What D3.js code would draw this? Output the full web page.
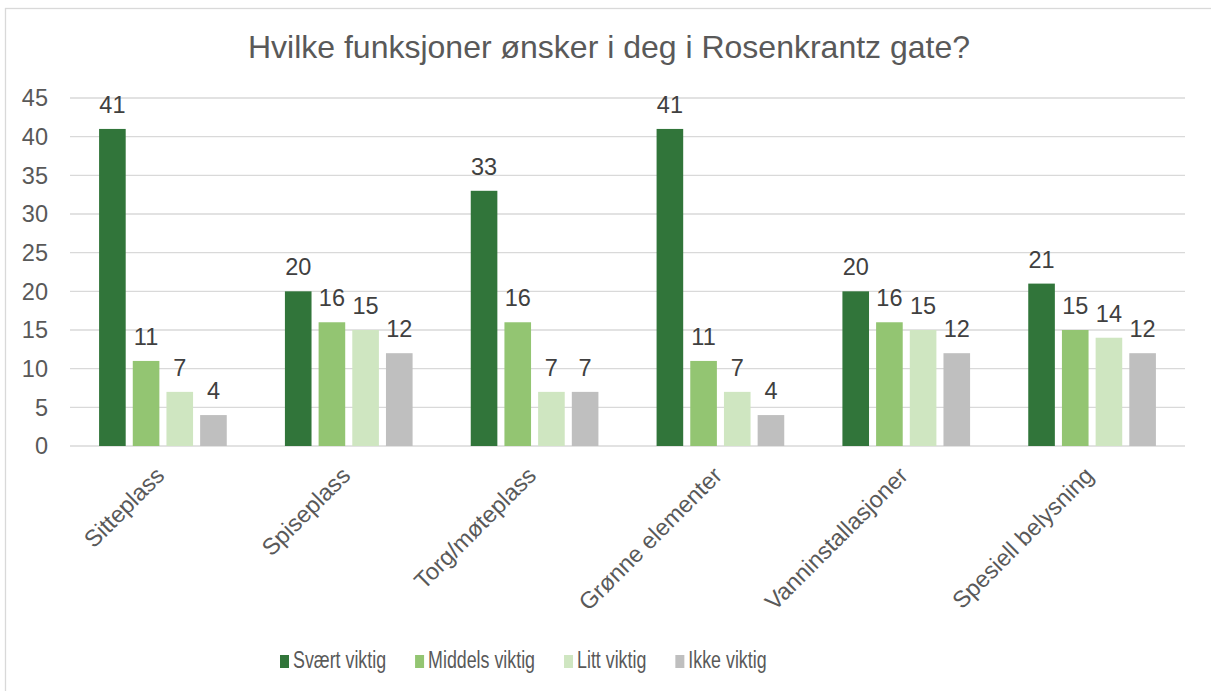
<!DOCTYPE html>
<html>
<head>
<meta charset="utf-8">
<script src="https://cdn.jsdelivr.net/npm/d3@7"></script>
<style>
  body { margin: 0; background: #fff; }
  svg { display: block; font-family: "Liberation Sans", Arial, sans-serif; }
</style>
</head>
<body>
<div id="chart"></div>
<script>
const categories = ['Sitteplass', 'Spiseplass', 'Torg/møteplass', 'Grønne elementer', 'Vanninstallasjoner', 'Spesiell belysning'];
const seriesNames = ['Svært viktig', 'Middels viktig', 'Litt viktig', 'Ikke viktig'];
const svaertViktig = [41, 20, 33, 41, 20, 21];
const middelsViktig = [11, 16, 16, 11, 16, 15];
const littViktig = [7, 15, 7, 7, 15, 14];
const ikkeViktig = [4, 12, 7, 4, 12, 12];
const yTicks = [0, 5, 10, 15, 20, 25, 30, 35, 40, 45];
const colors = ['#31753a', '#93c572', '#cfe6c1', '#bfbfbf'];

const series = [svaertViktig, middelsViktig, littViktig, ikkeViktig];
const width = 1211, height = 691;
const plot = { left: 70, right: 1185, top: 98, bottom: 446 };

const svg = d3.select('#chart').append('svg')
  .attr('width', width)
  .attr('height', height);

// chart frame (runs off the right and bottom of the page)
svg.append('rect')
  .attr('x', 5.5).attr('y', 8.5)
  .attr('width', width + 20).attr('height', height + 20)
  .attr('fill', '#fff')
  .attr('stroke', '#d9d9d9')
  .attr('stroke-width', 1.3);

svg.append('text')
  .attr('x', 609).attr('y', 58)
  .attr('text-anchor', 'middle')
  .attr('font-size', 32)
  .attr('fill', '#595959')
  .text('Hvilke funksjoner ønsker i deg i Rosenkrantz gate?');

const x0 = d3.scaleBand()
  .domain(categories)
  .range([plot.left, plot.right])
  .paddingInner(0.313)
  .paddingOuter(0.1565);

const x1 = d3.scaleBand()
  .domain(d3.range(series.length))
  .range([0, x0.bandwidth()])
  .paddingInner(0.21);

const y = d3.scaleLinear()
  .domain([0, 45])
  .range([plot.bottom, plot.top]);

// gridlines
svg.append('g')
  .selectAll('line')
  .data(yTicks)
  .join('line')
  .attr('x1', plot.left).attr('x2', plot.right)
  .attr('y1', d => y(d)).attr('y2', d => y(d))
  .attr('stroke', '#d9d9d9')
  .attr('stroke-width', 1.4);

// y axis labels
svg.append('g')
  .selectAll('text')
  .data(yTicks)
  .join('text')
  .attr('x', 48)
  .attr('y', d => y(d))
  .attr('dy', '0.35em')
  .attr('text-anchor', 'end')
  .attr('font-size', 23.5)
  .attr('fill', '#595959')
  .text(d => d);

const groups = svg.append('g')
  .selectAll('g')
  .data(categories)
  .join('g')
  .attr('transform', d => `translate(${x0(d)},0)`);

const cells = groups.selectAll('g')
  .data((c, ci) => series.map((s, si) => ({ si, v: s[ci] })))
  .join('g');

cells.append('rect')
  .attr('x', d => x1(d.si))
  .attr('y', d => y(d.v))
  .attr('width', x1.bandwidth())
  .attr('height', d => y(0) - y(d.v))
  .attr('fill', d => colors[d.si]);

cells.append('text')
  .attr('x', d => x1(d.si) + x1.bandwidth() / 2)
  .attr('y', d => y(d.v) - 16)
  .attr('text-anchor', 'middle')
  .attr('font-size', 23.5)
  .attr('fill', '#404040')
  .text(d => d.v);

// category labels, rotated
svg.append('g')
  .selectAll('text')
  .data(categories)
  .join('text')
  .attr('transform', d => `translate(${x0(d) + x0.bandwidth() / 2 + 3},477) rotate(-45)`)
  .attr('text-anchor', 'end')
  .attr('font-size', 23.5)
  .attr('fill', '#595959')
  .text(d => d);

// legend (text is drawn narrow, as in the original)
const legend = svg.append('g')
  .attr('transform', 'translate(280,668)');

let lx = 0;
seriesNames.forEach((name, i) => {
  const item = legend.append('g').attr('transform', `translate(${lx},0)`);
  item.append('rect')
    .attr('x', 0).attr('y', -13)
    .attr('width', 9).attr('height', 13)
    .attr('fill', colors[i]);
  const t = item.append('text')
    .attr('transform', 'translate(13,0) scale(0.81,1.08)')
    .attr('font-size', 22)
    .attr('fill', '#595959')
    .text(name);
  lx += 13 + t.node().getComputedTextLength() * 0.81 + 29;
});
</script>
</body>
</html>
